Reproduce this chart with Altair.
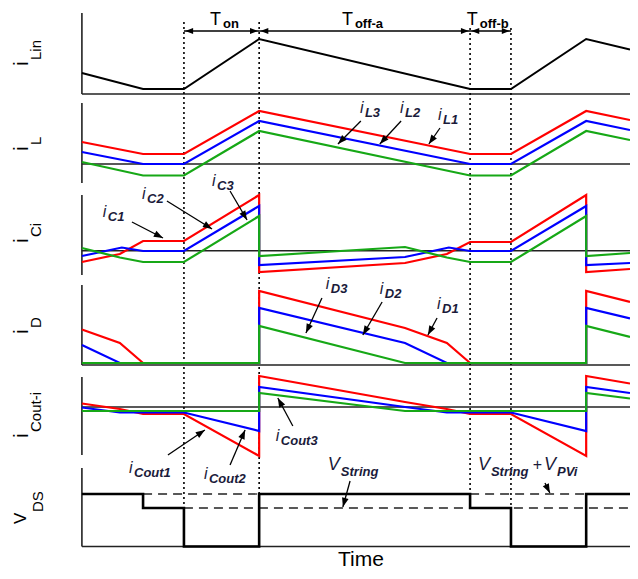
import math
import altair as alt
import pandas as pd

# ---------------- layout (style) constants ----------------
W, H = 622, 563
T_DOMAIN = [-5.38, 13.64]
Y_DOMAIN = [0.0, 56.3]
BASE = {1: 47.7, 2: 38.8, 3: 29.6, 4: 20.6, 5: 11.6, 6: 2.45}   # bottom of each panel's axis
TOP = {1: 8.1, 2: 8.0, 3: 8.0, 4: 8.0, 5: 7.8, 6: 7.85}          # axis length per panel
HLINE = {1: 0.0, 2: 1.9, 3: 2.43, 4: 0.0, 5: 4.8, 6: 0.0}        # zero / base line per panel
T_START, T_END = -3.12, 13.64
RED, BLUE, GREEN = "#ff0000", "#0000ff", "#16a816"
LABEL_COLOR = "#1b1b3a"
FONT = "Liberation Sans"
PX_T = W / (T_DOMAIN[1] - T_DOMAIN[0])
PX_Y = H / (Y_DOMAIN[1] - Y_DOMAIN[0])

# ---------------- switching instants ----------------
switch_t = [0.0, 2.3, 8.75, 10.0]
dotted_top = [7.2, 7.2, 6.6, 6.6]        # panel 1 local level
dotted_bot = [3.85, 5.25, 5.25, 3.85]    # panel 6 local level

# ---------------- waveforms ----------------
ilin_t = [-3.12, -1.25, 0, 2.3, 8.75, 10, 12.3, 13.64]
ilin_v = [2.1, 0.5, 0.5, 5.5, 0.5, 0.5, 5.5, 4.45]

il_t = [-3.12, -1.25, 0, 2.3, 8.75, 10, 12.3, 13.64]
il1_v = [4.1, 2.9, 2.9, 7.2, 2.9, 2.9, 7.2, 6.3]
il2_v = [3.1, 1.9, 1.9, 6.2, 1.9, 1.9, 6.2, 5.3]
il3_v = [2.1, 0.75, 0.75, 5.2, 0.75, 0.75, 5.2, 4.3]

ic1_t = [-3.12, -1.96, -1.25, 0, 2.3, 2.3, 6.76, 8.04, 8.75, 10, 12.3, 12.3, 13.64]
ic1_v = [1.3, 2.1, 3.4, 3.4, 8.0, 0.3, 1.2, 2.1, 3.3, 3.3, 8.0, 0.3, 0.6]
ic2_t = [-3.12, -1.9, -1.25, 0, 2.3, 2.3, 6.76, 8.1, 8.75, 10, 12.3, 12.3, 13.64]
ic2_v = [1.9, 2.75, 2.4, 2.4, 6.9, 1.0, 1.8, 2.75, 2.4, 2.4, 6.9, 1.0, 1.2]
ic3_t = [-3.12, -1.96, -1.25, 0, 2.3, 2.3, 6.76, 8.04, 8.75, 10, 12.3, 12.3, 13.64]
ic3_v = [2.7, 1.75, 1.3, 1.3, 5.9, 1.9, 2.8, 1.75, 1.3, 1.3, 5.9, 1.9, 2.2]

id1_t = [-3.12, -1.96, -1.25, 2.3, 2.3, 6.76, 8.04, 8.75, 12.3, 12.3, 13.64]
id1_v = [3.55, 2.2, 0.2, 0.2, 7.4, 3.7, 2.2, 0.2, 0.2, 7.4, 6.3]
id2_t = [-3.12, -1.96, 2.3, 2.3, 6.76, 8.04, 12.3, 12.3, 13.64]
id2_v = [2.0, 0.2, 0.2, 5.7, 2.2, 0.2, 0.2, 5.7, 4.65]
id3_t = [-3.12, 2.3, 2.3, 6.76, 12.3, 12.3, 13.64]
id3_v = [0.2, 0.2, 3.9, 0.2, 0.2, 3.9, 2.8]

ico1_t = [-3.12, -1.96, -1.25, 0, 2.3, 2.3, 6.76, 8.04, 8.75, 10, 12.3, 12.3, 13.64]
ico1_v = [5.15, 4.6, 4.1, 4.1, -0.1, 7.9, 5.3, 4.6, 4.1, 4.1, -0.1, 7.9, 7.15]
ico2_t = [-3.12, -1.96, 0, 2.3, 2.3, 6.76, 8.04, 10, 12.3, 12.3, 13.64]
ico2_v = [4.75, 4.25, 4.25, 2.4, 6.8, 4.8, 4.25, 4.25, 2.4, 6.8, 6.2]
ico3_t = [-3.12, 2.3, 2.3, 6.76, 12.3, 12.3, 13.64]
ico3_v = [4.4, 4.4, 6.2, 4.4, 4.4, 6.2, 5.65]

vds_t = [-3.12, -1.25, -1.25, 0, 0, 2.3, 2.3, 8.75, 8.75, 10, 10, 12.3, 12.3, 13.64]
vds_v = [5.25, 5.25, 3.85, 3.85, 0, 0, 5.25, 5.25, 3.85, 3.85, 0, 0, 5.25, 5.25]
vds_high, vds_mid = 5.25, 3.85
dash_high_t1 = [-1.25, 8.75]
dash_high_t2 = [2.3, 12.3]
dash_mid_t1 = [0.0]
dash_mid_t2 = [13.64]

# ---------------- annotation arrows ----------------
arr_panel = [2, 2, 2, 3, 3, 3, 4, 4, 4, 5, 5, 5, 6, 6]
arr_t1 = [5.41, 6.64, 7.83, -1.59, -0.52, 1.41, 4.22, 6.06, 7.74, -0.49, 1.41, 3.33, 5.08, 11.04]
arr_y1 = [6.2, 6.2, 5.5, 5.3, 7.4, 8.4, 6.7, 6.3, 4.7, 0.0, -1.0, 2.9, 6.55, 6.35]
arr_t2 = [4.71, 5.99, 7.49, -0.64, 0.86, 1.93, 3.73, 5.47, 7.46, 0.64, 1.87, 2.87, 4.86, 11.19]
arr_y2 = [3.9, 3.9, 3.9, 3.7, 4.6, 5.5, 3.2, 3.0, 3.0, 2.5, 2.5, 5.7, 3.95, 5.35]

period_level = 6.3
period_t1 = [0.0, 2.3, 8.75]
period_t2 = [2.3, 8.75, 10.0]

# ---------------- texts ----------------
left_sub = ["Lin", "L", "Ci", "D", "Cout-i"]
left_panel = [1, 2, 3, 4, 5]
left_t = [-4.77, -4.77, -4.77, -4.77, -4.77]
left_y = [2.8, 3.2, 3.2, 3.1, 1.7]
vds_lab_t, vds_lab_y = -4.83, 2.25

per_sub = ["on", "off-a", "off-b"]
per_t = [0.80, 4.83, 8.65]
per_y = [6.95, 6.95, 6.95]

ser_sub = ["L3", "L2", "L1", "C1", "C2", "C3", "D3", "D2", "D1", "Cout1", "Cout2", "Cout3"]
ser_panel = [2, 2, 2, 3, 3, 3, 4, 4, 4, 5, 5, 5]
ser_t = [5.38, 6.61, 7.77, -2.48, -1.28, 0.86, 4.34, 5.99, 7.74, -1.68, 0.61, 2.81]
ser_y = [7.0, 7.0, 6.3, 5.8, 7.6, 8.9, 7.6, 7.1, 5.6, -1.8, -2.4, 1.4]

v_sub = ["String", "String", "PVi"]
v_t = [4.40, 8.99, 11.01]
v_y = [7.65, 7.65, 7.65]
plus_t, plus_y = 10.67, 7.65
time_t, time_y = 5.41, 0.5

# ---------------- build ----------------
xs = alt.Scale(domain=T_DOMAIN, nice=False, zero=False)
ys = alt.Scale(domain=Y_DOMAIN, nice=False, zero=False)
X = alt.X("t:Q", scale=xs, axis=None)
Y = alt.Y("y:Q", scale=ys, axis=None)


def wave(panel, ts, vs, name):
    return pd.DataFrame({"t": ts, "y": [BASE[panel] + v for v in vs], "grp": name,
                         "o": list(range(len(ts)))})


def line_layer(frames, color, width, dash=None):
    df = pd.concat(frames, ignore_index=True)
    kw = dict(color=color, strokeWidth=width)
    if dash:
        kw["strokeDash"] = dash
    return alt.Chart(df).mark_line(**kw).encode(x=X, y=Y, detail="grp:N", order="o:Q")


def rules(df, color, width, dash=None):
    kw = dict(color=color, strokeWidth=width)
    if dash:
        kw["strokeDash"] = dash
    return alt.Chart(df).mark_rule(**kw).encode(x=X, y=Y, x2="t2:Q", y2="y2:Q")


def texts(df, **kw):
    return alt.Chart(df).mark_text(font=FONT, **kw).encode(x=X, y=Y, text="txt:N")


panels = list(BASE.keys())
axes_h = pd.DataFrame({"t": [T_START] * 6, "t2": [T_END] * 6,
                       "y": [BASE[p] + HLINE[p] for p in panels],
                       "y2": [BASE[p] + HLINE[p] for p in panels]})
axes_v = pd.DataFrame({"t": [T_START] * 6, "t2": [T_START] * 6,
                       "y": [BASE[p] for p in panels],
                       "y2": [BASE[p] + TOP[p] for p in panels]})
dotted = pd.DataFrame({"t": switch_t, "t2": switch_t,
                       "y": [BASE[1] + v for v in dotted_top],
                       "y2": [BASE[6] + v for v in dotted_bot]})
dash_df = pd.DataFrame({"t": dash_high_t1 + dash_mid_t1, "t2": dash_high_t2 + dash_mid_t2,
                        "y": [BASE[6] + vds_high] * 2 + [BASE[6] + vds_mid],
                        "y2": [BASE[6] + vds_high] * 2 + [BASE[6] + vds_mid]})

arrows = pd.DataFrame({"t": arr_t1, "t2": arr_t2,
                       "y": [BASE[p] + v for p, v in zip(arr_panel, arr_y1)],
                       "y2": [BASE[p] + v for p, v in zip(arr_panel, arr_y2)]})
arrows["ang"] = [
    math.degrees(math.atan2((b - a) * PX_T, (d - c) * PX_Y)) % 360
    for a, b, c, d in zip(arrows.t, arrows.t2, arrows.y, arrows.y2)
]
heads = pd.DataFrame({"t": arrows.t2, "y": arrows.y2, "ang": arrows.ang})

per_lines = pd.DataFrame({"t": period_t1, "t2": period_t2,
                          "y": [BASE[1] + period_level] * 3, "y2": [BASE[1] + period_level] * 3})
gap = 0.04
per_heads = pd.DataFrame({
    "t": [a + gap for a in period_t1] + [b - gap for b in period_t2],
    "y": [BASE[1] + period_level] * 6,
    "ang": [270.0] * 3 + [90.0] * 3,
})

ARROW = "M0,0L-0.55,1.5L0.55,1.5Z"


def head_layer(df, size):
    return alt.Chart(df).mark_point(shape=ARROW, filled=True, color="black", opacity=1,
                                    size=size, strokeWidth=0).encode(
        x=X, y=Y, angle=alt.Angle("ang:Q", scale=None))


red = line_layer([wave(2, il_t, il1_v, "il1"), wave(3, ic1_t, ic1_v, "ic1"),
                  wave(4, id1_t, id1_v, "id1"), wave(5, ico1_t, ico1_v, "ico1")], RED, 2.2)
blue = line_layer([wave(2, il_t, il2_v, "il2"), wave(3, ic2_t, ic2_v, "ic2"),
                   wave(4, id2_t, id2_v, "id2"), wave(5, ico2_t, ico2_v, "ico2")], BLUE, 2.2)
green = line_layer([wave(2, il_t, il3_v, "il3"), wave(3, ic3_t, ic3_v, "ic3"),
                    wave(4, id3_t, id3_v, "id3"), wave(5, ico3_t, ico3_v, "ico3")], GREEN, 2.2)
black = line_layer([wave(1, ilin_t, ilin_v, "ilin")], "black", 2.0)
vds = line_layer([wave(6, vds_t, vds_v, "vds")], "black", 2.6)

left_main_df = pd.DataFrame({"txt": ["i"] * 5, "t": left_t,
                             "y": [BASE[p] + v for p, v in zip(left_panel, left_y)]})
left_sub_df = left_main_df.assign(txt=left_sub)
vds_main_df = pd.DataFrame({"txt": ["V"], "t": [vds_lab_t], "y": [BASE[6] + vds_lab_y]})
vds_sub_df = vds_main_df.assign(txt=["DS"])

per_main_df = pd.DataFrame({"txt": ["T"] * 3, "t": per_t, "y": [BASE[1] + v for v in per_y]})
per_sub_df = per_main_df.assign(txt=per_sub)

ser_main_df = pd.DataFrame({"txt": ["i"] * len(ser_sub), "t": ser_t,
                            "y": [BASE[p] + v for p, v in zip(ser_panel, ser_y)]})
ser_sub_df = ser_main_df.assign(txt=ser_sub)
v_main_df = pd.DataFrame({"txt": ["V"] * 3, "t": v_t, "y": [BASE[6] + v for v in v_y]})
v_sub_df = v_main_df.assign(txt=v_sub)
plus_df = pd.DataFrame({"txt": ["+"], "t": [plus_t], "y": [BASE[6] + plus_y]})
time_df = pd.DataFrame({"txt": ["Time"], "t": [time_t], "y": [time_y]})

layers = [
    rules(axes_h, "#222222", 1.4),
    rules(axes_v, "#222222", 1.6),
    rules(dash_df, "#222222", 1.3, [9, 6]),
    rules(dotted, "black", 1.6, [2, 3]),
    black, red, blue, green, vds,
    rules(arrows, "black", 1.3),
    head_layer(heads, 150),
    rules(per_lines, "black", 1.3),
    head_layer(per_heads, 110),
    texts(left_main_df, angle=270, align="left", baseline="alphabetic", fontSize=21, color="black"),
    texts(left_sub_df, angle=270, align="left", baseline="alphabetic", fontSize=15, color="black",
          dx=6, dy=13),
    texts(vds_main_df, angle=270, align="left", baseline="alphabetic", fontSize=17, color="black"),
    texts(vds_sub_df, angle=270, align="left", baseline="alphabetic", fontSize=15, color="black",
          dx=12, dy=17),
    texts(per_main_df, align="left", baseline="alphabetic", fontSize=18, color="black"),
    texts(per_sub_df, align="left", baseline="alphabetic", fontSize=13, fontWeight="bold",
          color="black", dx=13, dy=3),
    texts(ser_main_df, align="left", baseline="alphabetic", fontSize=16, fontStyle="italic",
          color=LABEL_COLOR),
    texts(ser_sub_df, align="left", baseline="alphabetic", fontSize=13, fontStyle="italic",
          fontWeight="bold", color=LABEL_COLOR, dx=5, dy=4),
    texts(v_main_df, align="left", baseline="alphabetic", fontSize=18, fontStyle="italic",
          color=LABEL_COLOR),
    texts(v_sub_df, align="left", baseline="alphabetic", fontSize=13, fontStyle="italic",
          fontWeight="bold", color=LABEL_COLOR, dx=13, dy=6),
    texts(plus_df, align="left", baseline="alphabetic", fontSize=16, color=LABEL_COLOR),
    texts(time_df, align="center", baseline="alphabetic", fontSize=21, color="black"),
]

chart = alt.layer(*layers).properties(
    width=W, height=H, autosize=alt.AutoSizeParams(type="none"), padding=0,
    background="white",
).configure_view(stroke=None)

chart.save("out.html", embed_options={"renderer": "svg", "actions": False})
